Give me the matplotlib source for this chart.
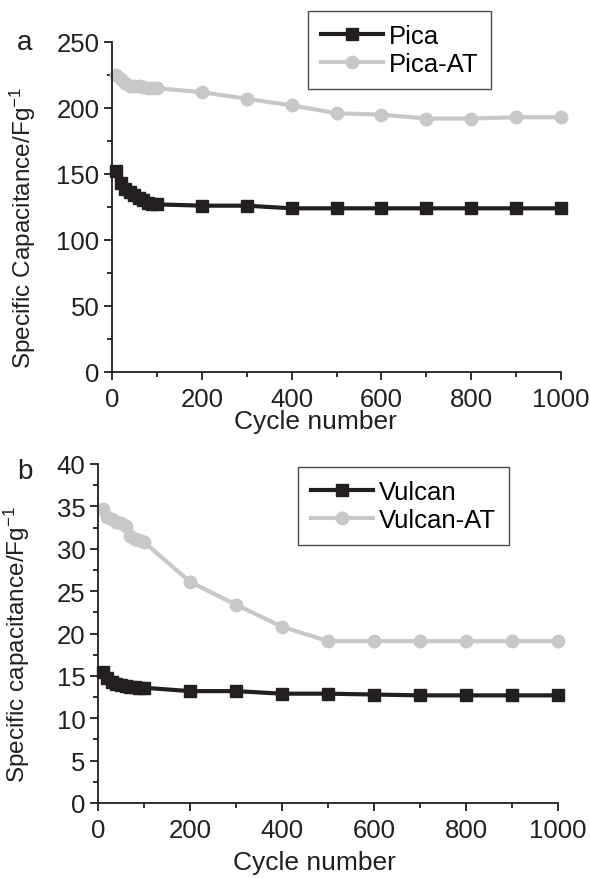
import numpy as np
import matplotlib
matplotlib.use("Agg")
import matplotlib.pyplot as plt
from matplotlib.ticker import MultipleLocator

plt.rcParams["font.family"] = ["Liberation Sans", "DejaVu Sans"]
plt.rcParams["mathtext.fontset"] = "custom"
plt.rcParams["mathtext.rm"] = "Liberation Sans"
plt.rcParams["mathtext.it"] = "Liberation Sans"
plt.rcParams["mathtext.default"] = "regular"

cycles = [10, 20, 30, 40, 50, 60, 70, 80, 90, 100,
          200, 300, 400, 500, 600, 700, 800, 900, 1000]

pica = [152, 143, 139, 136, 134, 132, 130, 128, 127, 127,
        126, 126, 124, 124, 124, 124, 124, 124, 124]
pica_at = [225, 222, 219, 217, 217, 217, 216, 215, 215, 215,
           212, 207, 202, 196, 195, 192, 192, 193, 193]

vulcan = [15.5, 14.8, 14.3, 14.0, 13.9, 13.8, 13.7, 13.7, 13.6, 13.6,
          13.2, 13.2, 12.9, 12.9, 12.8, 12.7, 12.7, 12.7, 12.7]
vulcan_at = [34.7, 33.8, 33.5, 33.2, 33.0, 32.7, 31.5, 31.2, 31.0, 30.8,
             26.1, 23.4, 20.8, 19.1, 19.1, 19.1, 19.1, 19.1, 19.1]

black = "#231f20"
grey = "#c8c8c8"
fs = 18.5

fig = plt.figure(figsize=(5.9, 8.79), dpi=100)
W, H = 590, 879


def addAxes(left, top, right, bottom):
    return fig.add_axes([left / W, 1 - bottom / H, (right - left) / W, (bottom - top) / H])


def styleAxes(ax, ymax, ymajor):
    ax.set_xlim(0, 1000)
    ax.set_ylim(0, ymax)
    ax.xaxis.set_major_locator(MultipleLocator(200))
    ax.xaxis.set_minor_locator(MultipleLocator(100))
    ax.yaxis.set_major_locator(MultipleLocator(ymajor))
    ax.yaxis.set_minor_locator(MultipleLocator(ymajor / 2))
    for side in ["top", "right"]:
        ax.spines[side].set_visible(False)
    for side in ["left", "bottom"]:
        ax.spines[side].set_linewidth(1.3)
        ax.spines[side].set_color(black)
    ax.tick_params(which="major", direction="out", length=6, width=1.3,
                   labelsize=fs, colors=black, pad=3)
    ax.tick_params(axis="x", which="major", pad=5)
    ax.tick_params(which="minor", direction="out", length=3.5, width=1.3, colors=black)
    ax.set_xlabel("Cycle number", fontsize=19, color=black)


def addLegend(ax, anchor):
    leg = ax.legend(loc="upper left", bbox_to_anchor=anchor, fontsize=fs,
                    frameon=True, fancybox=False, edgecolor=black, handlelength=2.4,
                    borderpad=0.5, labelspacing=0.15, handletextpad=0.25,
                    borderaxespad=0)
    leg.get_frame().set_linewidth(1.0)
    return leg


axA = addAxes(112, 43, 561, 373)
axA.plot(cycles, pica, color=black, lw=3, marker="s", ms=8, label="Pica", clip_on=False, zorder=3)
axA.plot(cycles, pica_at, color=grey, lw=3, marker="o", ms=9, label="Pica-AT", clip_on=False)
styleAxes(axA, 250, 50)
axA.set_ylabel("Specific Capacitance/Fg$^{-1}$", fontsize=17.5, color=black)
axA.yaxis.set_label_coords((38 - 112) / 449, 0.44)
axA.xaxis.set_label_coords((315 - 112) / 449, (373 - 410) / 330)
addLegend(axA, ((308 - 112) / 449, (373 - 12) / 330))
fig.text(17 / W, 1 - 43 / H, "a", fontsize=20, color=black, va="center")

axB = addAxes(98, 465, 558, 804)
axB.plot(cycles, vulcan, color=black, lw=3, marker="s", ms=8, label="Vulcan", clip_on=False, zorder=3)
axB.plot(cycles, vulcan_at, color=grey, lw=3, marker="o", ms=9, label="Vulcan-AT", clip_on=False)
styleAxes(axB, 40, 5)
axB.set_ylabel("Specific capacitance/Fg$^{-1}$", fontsize=17.5, color=black)
axB.yaxis.set_label_coords((32 - 98) / 460, 0.47)
axB.xaxis.set_label_coords((314 - 98) / 460, (804 - 851) / 339)
addLegend(axB, ((298 - 98) / 460, (804 - 468) / 339))
fig.text(17 / W, 1 - 472 / H, "b", fontsize=20, color=black, va="center")

fig.savefig("out.png", dpi=100)
